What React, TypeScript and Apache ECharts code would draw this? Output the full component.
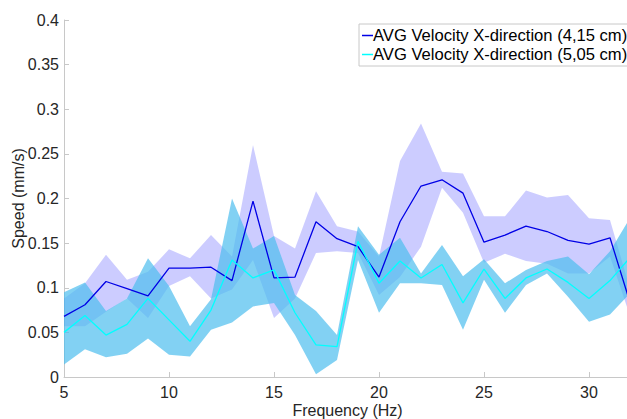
import React, { useEffect, useRef } from "react";
import * as echarts from "echarts";

const freq = [5, 6, 7, 8, 9, 10, 11, 12, 13, 14, 15, 16, 17, 18, 19, 20, 21, 22, 23, 24, 25, 26, 27, 28, 29, 30, 31, 32];

const blueMean = [0.068, 0.081, 0.107, 0.099, 0.091, 0.122, 0.122, 0.123, 0.108, 0.197, 0.111, 0.112, 0.174, 0.155, 0.146, 0.112, 0.174, 0.214, 0.221, 0.206, 0.151, 0.159, 0.169, 0.163, 0.153, 0.149, 0.156, 0.080];
const blueUpper = [0.088, 0.105, 0.137, 0.109, 0.118, 0.143, 0.133, 0.159, 0.135, 0.260, 0.158, 0.144, 0.208, 0.169, 0.163, 0.135, 0.242, 0.284, 0.230, 0.228, 0.180, 0.180, 0.209, 0.201, 0.204, 0.178, 0.176, 0.095];
const blueLower = [0.057, 0.057, 0.073, 0.088, 0.066, 0.102, 0.113, 0.088, 0.098, 0.131, 0.066, 0.088, 0.139, 0.141, 0.139, 0.092, 0.112, 0.146, 0.212, 0.184, 0.128, 0.138, 0.130, 0.127, 0.116, 0.116, 0.135, 0.065];

const cyanMean = [0.050, 0.069, 0.047, 0.059, 0.088, 0.064, 0.040, 0.075, 0.131, 0.111, 0.120, 0.072, 0.036, 0.034, 0.152, 0.105, 0.130, 0.111, 0.126, 0.083, 0.121, 0.088, 0.111, 0.121, 0.106, 0.088, 0.108, 0.135];
const cyanUpper = [0.095, 0.106, 0.074, 0.088, 0.133, 0.102, 0.057, 0.087, 0.200, 0.144, 0.158, 0.092, 0.074, 0.047, 0.169, 0.137, 0.156, 0.116, 0.148, 0.113, 0.132, 0.105, 0.120, 0.130, 0.135, 0.115, 0.141, 0.180];
const cyanLower = [0.014, 0.031, 0.022, 0.026, 0.043, 0.025, 0.023, 0.053, 0.061, 0.079, 0.083, 0.047, 0.003, 0.019, 0.131, 0.072, 0.105, 0.105, 0.103, 0.053, 0.109, 0.072, 0.103, 0.116, 0.090, 0.062, 0.070, 0.095];

const seriesNames = ["AVG Velocity X-direction (4,15 cm)", "AVG Velocity X-direction (5,05 cm)"];

const FONT = "'Liberation Sans', Arial, Helvetica, sans-serif";

function bandSeries(upper: number[], lower: number[], fill: string) {
  return {
    type: "custom",
    silent: true,
    clip: true,
    z: 1,
    data: [0],
    renderItem: (params: any, api: any) => {
      const pts: number[][] = [];
      for (let i = 0; i < freq.length; i++) pts.push(api.coord([freq[i], upper[i]]));
      for (let i = freq.length - 1; i >= 0; i--) pts.push(api.coord([freq[i], lower[i]]));
      return {
        type: "polygon",
        shape: { points: pts },
        style: { fill, stroke: "none" },
      };
    },
  };
}

export default function App() {
  const ref = useRef<HTMLDivElement>(null);
  useEffect(() => {
    if (!ref.current) return;
    const chart = echarts.init(ref.current, undefined, { renderer: "svg" });
    chart.setOption({
      animation: false,
      backgroundColor: "#ffffff",
      grid: { left: 64, top: 20, right: -4, bottom: 42, containLabel: false, outerBoundsMode: "none" },
      legend: {
        data: seriesNames,
        orient: "vertical",
        left: 359,
        top: 24,
        backgroundColor: "#ffffff",
        borderColor: "#c8c8c8",
        borderWidth: 1,
        borderRadius: 0,
        padding: [3, 6, 3, 3],
        itemGap: 2,
        itemWidth: 11,
        itemHeight: 1.5,
        icon: "rect",
        textStyle: { fontFamily: FONT, fontSize: 16.6, color: "#000000", padding: [0, 0, 0, -5] },
      },
      xAxis: {
        type: "value",
        min: 5,
        max: 32,
        interval: 5,
        name: "Frequency (Hz)",
        nameLocation: "middle",
        nameGap: 25,
        nameMoveOverlap: false,
        nameTextStyle: { fontFamily: FONT, fontSize: 16, color: "#262626" },
        axisLine: { show: true, lineStyle: { color: "#c8c8c8", width: 1 } },
        axisTick: { show: true, inside: true, length: 5, lineStyle: { color: "#c8c8c8" } },
        axisLabel: { fontFamily: FONT, fontSize: 16, color: "#262626", margin: 7, showMaxLabel: false },
        splitLine: { show: false },
      },
      yAxis: {
        type: "value",
        min: 0,
        max: 0.4,
        interval: 0.05,
        name: "Speed (mm/s)",
        nameLocation: "middle",
        nameGap: 38,
        nameRotate: 90,
        nameMoveOverlap: false,
        nameTextStyle: { fontFamily: FONT, fontSize: 16, color: "#262626" },
        axisLine: { show: true, lineStyle: { color: "#c8c8c8", width: 1 } },
        axisTick: { show: true, inside: true, length: 5, lineStyle: { color: "#c8c8c8" } },
        axisLabel: { fontFamily: FONT, fontSize: 16, color: "#262626", margin: 5 },
        splitLine: { show: false },
      },
      series: [
        bandSeries(blueUpper, blueLower, "rgba(0,0,255,0.2)"),
        bandSeries(cyanUpper, cyanLower, "rgba(77,190,238,0.7)"),
        {
          name: seriesNames[0],
          type: "line",
          z: 3,
          data: freq.map((f, i) => [f, blueMean[i]]),
          showSymbol: false,
          symbol: "none",
          lineStyle: { color: "#0000e6", width: 1.3 },
          itemStyle: { color: "#0000e6" },
        },
        {
          name: seriesNames[1],
          type: "line",
          z: 4,
          data: freq.map((f, i) => [f, cyanMean[i]]),
          showSymbol: false,
          symbol: "none",
          lineStyle: { color: "#00ffff", width: 1.3 },
          itemStyle: { color: "#00ffff" },
        },
      ],
    });
    return () => chart.dispose();
  }, []);
  return <div ref={ref} style={{ width: 627, height: 419, position: "fixed", left: 0, top: 0 }} />;
}
